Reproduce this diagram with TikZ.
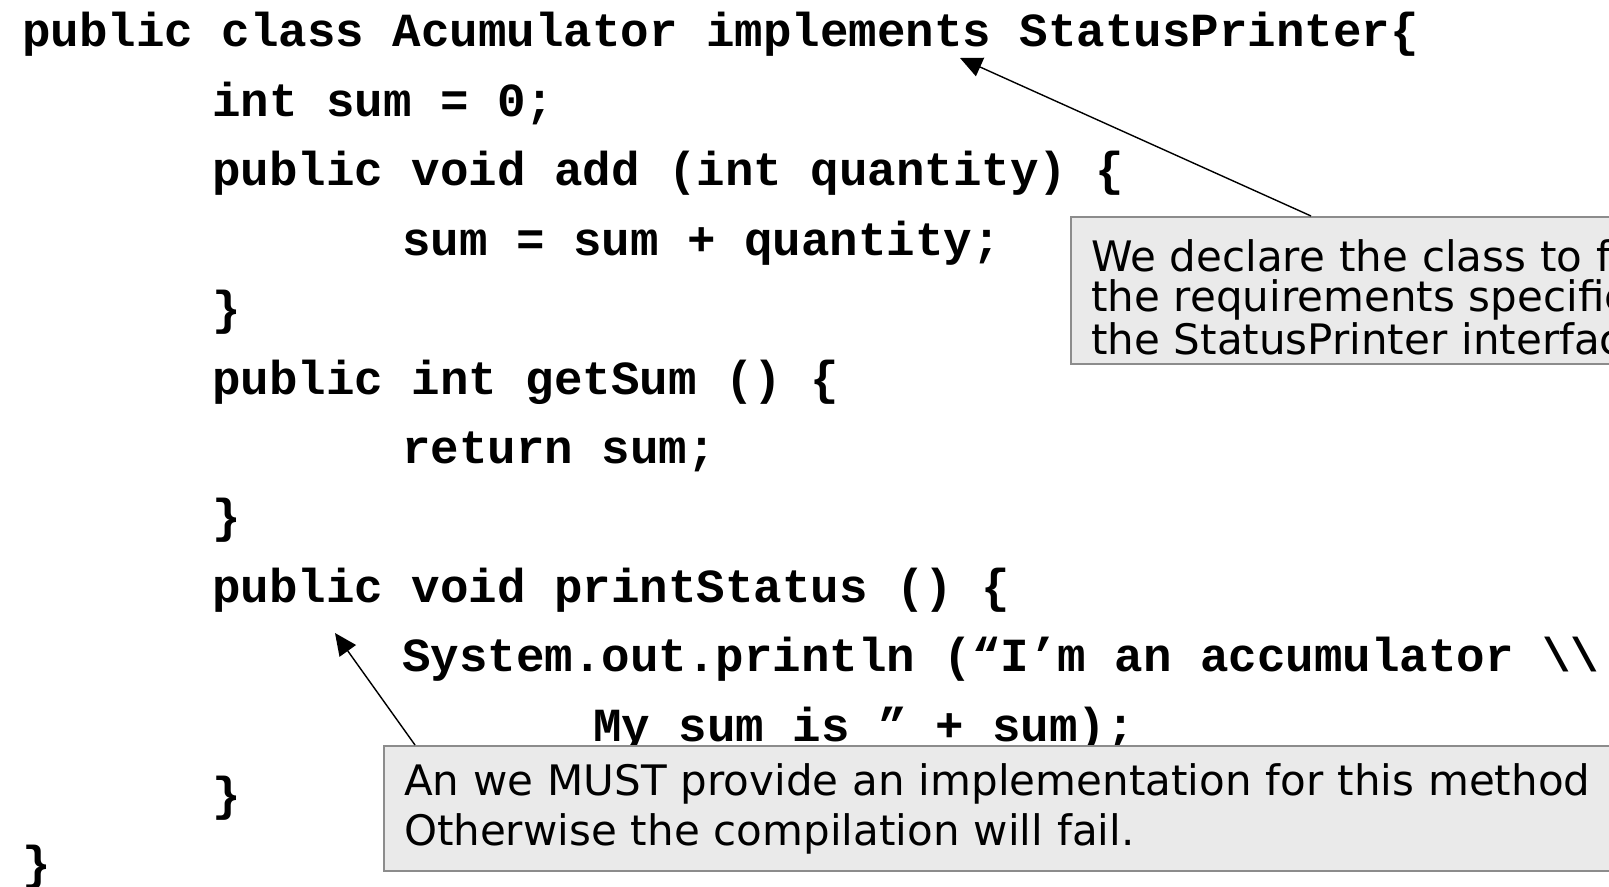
\documentclass[tikz,border=0pt]{standalone}
\usepackage{fontspec}
\setmonofont{Liberation Mono}
\setsansfont{DejaVu Sans}
\usetikzlibrary{arrows.meta}
\definecolor{notefill}{HTML}{EAEAEA}
\definecolor{noteline}{HTML}{8C8C8C}
\tikzset{
    code/.style = {anchor=base west, inner sep=0pt, font=\ttfamily\bfseries\fontsize{23.75pt}{28pt}\selectfont},
    note/.style = {draw=noteline, line width=1pt, fill=notefill, anchor=north west, align=left, inner xsep=10pt, inner ysep=0pt},
    pointer/.style = {-{Triangle[length=11pt,width=10pt]}, line width=0.7pt}
}

\begin{document}
\begin{tikzpicture}[x=0.5pt, y=-0.5pt]
    \useasboundingbox (0,0) rectangle (1609,887);
    \clip (0,0) rectangle (1609,887);
    % the class
    \node[code] (head) at (22,47) {public class Acumulator implements StatusPrinter\{};
    \node[code] (field) at (212,116.4) {int sum = 0;};
    \node[code] (add) at (212,185.8) {public void add (int quantity) \{};
    \node[code] (addbody) at (402,255.2) {sum = sum + quantity;};
    \node[code] (addend) at (212,324.6) {\}};
    \node[code] (get) at (212,394) {public int getSum () \{};
    \node[code] (getbody) at (402,463.4) {return sum;};
    \node[code] (getend) at (212,532.8) {\}};
    \node[code] (print) at (212,602.2) {public void printStatus () \{};
    \node[code] (printa) at (402,671.6) {System.out.println (“I’m an accumulator \textbackslash\textbackslash};
    \node[code] (printb) at (593,741) {My sum is ” + sum);};
    \node[code] (printend) at (212,810.4) {\}};
    \node[code] (tail) at (22,879.8) {\}};
    % the notes
    \node[note, text width=600pt, minimum height=73.5pt, font=\sffamily\fontsize{21pt}{20pt}\selectfont] (topnote) at (1070,216)
        {\rule{0pt}{23pt}We declare the class to fulfill\\the requirements specified by\\the StatusPrinter interface};
    \node[note, text width=700pt, minimum height=62.5pt, font=\sffamily\fontsize{21pt}{25pt}\selectfont] (bottomnote) at (383,745)
        {An we MUST provide an implementation for this method\\Otherwise the compilation will fail.};
    \coordinate (implTip) at (960,58);
    \coordinate (printTip) at (335,633);
    \draw[pointer] ([xshift=120.5pt]topnote.north west) -- (implTip);
    \draw[pointer] ([xshift=16pt]bottomnote.north west) -- (printTip);
\end{tikzpicture}
\end{document}
